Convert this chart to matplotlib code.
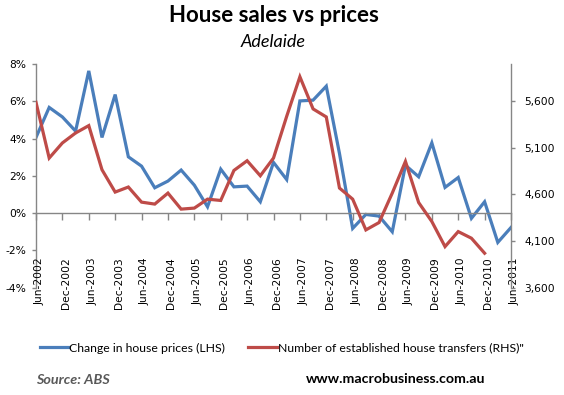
import numpy as np
import matplotlib
matplotlib.use("Agg")
import matplotlib.pyplot as plt
import matplotlib.transforms as mtransforms
from matplotlib.lines import Line2D

# ---- data ----
tick_labels = ["Jun-2002", "Dec-2002", "Jun-2003", "Dec-2003", "Jun-2004", "Dec-2004",
               "Jun-2005", "Dec-2005", "Jun-2006", "Dec-2006", "Jun-2007", "Dec-2007",
               "Jun-2008", "Dec-2008", "Jun-2009", "Dec-2009", "Jun-2010", "Dec-2010",
               "Jun-2011"]
price_change = [4.06, 5.67, 5.16, 4.40, 7.63, 4.06, 6.36, 3.02, 2.52, 1.36, 1.72, 2.31,
                1.50, 0.34, 2.36, 1.41, 1.45, 0.61, 2.72, 1.80, 6.02, 6.06, 6.81, 3.20,
                -0.82, -0.07, -0.16, -1.00, 2.57, 1.95, 3.77, 1.38, 1.91, -0.28, 0.61,
                -1.57, -0.77]
transfers = [5589, 4991, 5153, 5260, 5339, 4866, 4626, 4680, 4518, 4497, 4615, 4443,
             4454, 4550, 4536, 4858, 4962, 4801, 4991, 5439, 5863, 5518, 5432, 4669,
             4550, 4220, 4299, 4615, 4955, 4514, 4310, 4041, 4202, 4131, 3970,
             np.nan, np.nan]
left_ticks = [-4, -2, 0, 2, 4, 6, 8]
right_ticks = [3600, 4100, 4600, 5100, 5600]

BLUE = "#4A7EBB"
RED = "#BE4B48"
GRAY = "#868686"
W, H = 564, 395

fig = plt.figure(figsize=(W / 100, H / 100), dpi=100)
ax = fig.add_axes([36 / W, 1 - 287.7 / H, (511 - 36) / W, (287.7 - 64) / H])
ax2 = ax.twinx()

x = np.arange(len(price_change))
ax.plot(x, price_change, color=BLUE, lw=2.3, solid_joinstyle="miter")
ax2.plot(x, transfers, color=RED, lw=2.3, solid_joinstyle="miter")

ax.set_xlim(0, len(price_change) - 1)
ax.set_ylim(-4, 8)
ax2.set_ylim(3600, 6000)

ax.set_yticks(left_ticks)
ax.set_yticklabels([f"{v}%" for v in left_ticks])
ax2.set_yticks(right_ticks)
ax2.set_yticklabels([f"{v:,}" for v in right_ticks])

for a in (ax, ax2):
    a.spines["top"].set_visible(False)
    for s in a.spines.values():
        s.set_color(GRAY)
        s.set_linewidth(1.0)
ax.spines["right"].set_visible(False)
ax2.spines["left"].set_visible(False)
ax2.spines["bottom"].set_visible(False)
ax.spines["bottom"].set_position(("data", 0))

ax.tick_params(axis="y", direction="out", length=3, width=1, color=GRAY, pad=4,
               labelsize=7.7, labelcolor="black")
ax2.tick_params(axis="y", direction="out", length=3, width=1, color=GRAY, pad=6.5,
                labelsize=7.7, labelcolor="black")
xt = np.arange(0, len(price_change), 2)
ax.set_xticks(xt)
ax.tick_params(axis="x", direction="out", length=5, width=1, color=GRAY,
               labelbottom=False)
ax2.tick_params(axis="x", bottom=False, labelbottom=False)

off = mtransforms.ScaledTranslation(3.5 / 100, 0, fig.dpi_scale_trans)
trans = mtransforms.blended_transform_factory(ax.transData, ax.transAxes) + off
for xi, lab in zip(xt, tick_labels):
    ax.text(xi, 0.137, lab, transform=trans, rotation=90, ha="center", va="top",
            fontsize=7.7, color="black", clip_on=False)

# titles
cx = (36 + 511) / 2 / W
fig.text(cx, 1 - 16 / H, "House sales vs prices", ha="center", va="center",
         fontsize=16, fontweight="bold", family="Lato")
fig.text(cx, 1 - 42 / H, "Adelaide", ha="center", va="center",
         fontsize=13, style="italic", family="Lato")

# legend
handles = [Line2D([], [], color=BLUE, lw=2.3), Line2D([], [], color=RED, lw=2.3)]
labels = ["Change in house prices (LHS)", "Number of established house transfers (RHS)\""]
fig.legend(handles, labels, loc="center left", bbox_to_anchor=(40 / W, 1 - 348 / H),
           ncol=2, frameon=False, handlelength=2.3, handletextpad=0.1,
           columnspacing=1.9, borderaxespad=0, borderpad=0,
           prop={"family": "Lato", "size": 8.8})

fig.text(36 / W, 1 - 380 / H, "Source: ABS", ha="left", va="center", fontsize=10.4,
         fontweight="bold", style="italic", family="Lato", color="#595959")
fig.text(395.5 / W, 1 - 379 / H, "www.macrobusiness.com.au", ha="center", va="center",
         fontsize=10.2, fontweight="bold", family="Lato", color="black")

fig.savefig("out.png", dpi=100)
